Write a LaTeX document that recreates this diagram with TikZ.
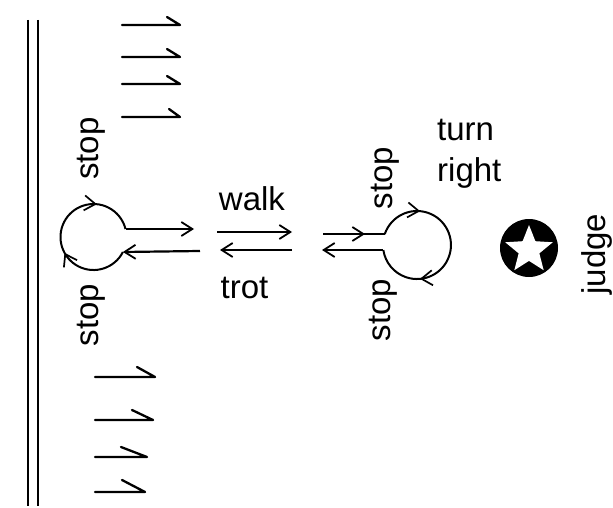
\documentclass[tikz,border=0pt]{standalone}
\usepackage{fontspec}
\setmainfont{Liberation Sans}
\usetikzlibrary{arrows.meta,decorations.markings,shapes.geometric}
\begin{document}
\begin{tikzpicture}[x=1pt,y=-1pt,
  lbl/.style={font=\fontsize{33}{41}\selectfont, inner sep=0pt},
  vlbl/.style={lbl, rotate=90},
  tipA/.tip={Straight Barb[length=11pt,width=14pt,line width=1.8pt]},
  tipB/.tip={Straight Barb[length=11pt,width=15pt,line width=1.7pt]},
  flow/.style={line width=2.2pt, -tipA},
  plainline/.style={line width=2.2pt},
  loopline/.style={line width=2pt},
  tickline/.style={line width=2.3pt, line cap=round, line join=round},
  railline/.style={line width=2.3pt}]
\path[use as bounding box] (0,0) rectangle (613,508);
% rail (double line at the arena wall)
\draw[railline] (28,20) -- (28,506);
\draw[railline] (38,20) -- (38,506);
% tick marks
\foreach \yy/\bx/\by in {25/167/17, 57/167/49, 84/167/76, 117/169/109}
  \draw[tickline] (122,\yy) -- (180,\yy) -- (\bx,\by);
\foreach \yy/\ex/\bx/\by in {377/155/137/367, 420/153/132/410, 457/147/121/447, 492/145/122/480}
  \draw[tickline] (95,\yy) -- (\ex,\yy) -- (\bx,\by);
% left loop
\coordinate (Lin) at (122.9,252);
\coordinate (Lout) at (125.5,229);
\draw[loopline, postaction=decorate, decoration={markings,
   mark=at position 0.39 with {\arrow{tipB}},
   mark=at position 0.78 with {\arrow{tipB}}}]
  (Lin) arc[start angle=27, end angle=346, radius=33];
% right loop
\coordinate (Rin) at (384.8,234);
\coordinate (Rout) at (383.4,250);
\draw[loopline, postaction=decorate, decoration={markings,
   mark=at position 0.23 with {\arrow{tipB}},
   mark=at position 0.74 with {\arrow{tipB}}}]
  (Rin) arc[start angle=198.9, end angle=531.5, radius=34];
% connector end points
\coordinate (Lt) at (194,229);
\coordinate (Lb) at (200,251);
\coordinate (Ws) at (217,232);
\coordinate (We) at (292,232);
\coordinate (Ts) at (292,250);
\coordinate (Te) at (220,250);
\coordinate (Rs) at (323,234);
\coordinate (Re) at (322,250);
% connectors
\draw[flow] (Lout) -- (Lt);
\draw[flow] (Lb) -- (Lin);
\draw[flow] (Ws) -- (We);
\draw[flow] (Ts) -- (Te);
\draw[plainline, postaction=decorate, decoration={markings,
   mark=at position 0.68 with {\arrow{tipA}}}]
  (Rs) -- (Rin);
\draw[flow] (Rout) -- (Re);
% labels
\node[lbl, anchor=base] (walk) at (252,210) {walk};
\node[lbl, anchor=base] (trot) at (244.5,298) {trot};
\node[lbl, anchor=north west, align=left] (turn) at (437,119) {turn\\right};
\node[vlbl] (stopTL) at (91.5,148.5) {stop};
\node[vlbl] (stopBL) at (91,315) {stop};
\node[vlbl] (stopTR) at (385,178) {stop};
\node[vlbl] (stopBR) at (383,310) {stop};
\node[vlbl] (judge) at (596.5,254) {judge};
% judge marker
\node[circle, fill=black, minimum size=58pt, inner sep=0pt] (badge) at (529,248) {};
\node[star, star points=5, star point ratio=2.3, fill=white, minimum size=50pt, inner sep=0pt] (badgestar) at (529,250) {};
\end{tikzpicture}
\end{document}
